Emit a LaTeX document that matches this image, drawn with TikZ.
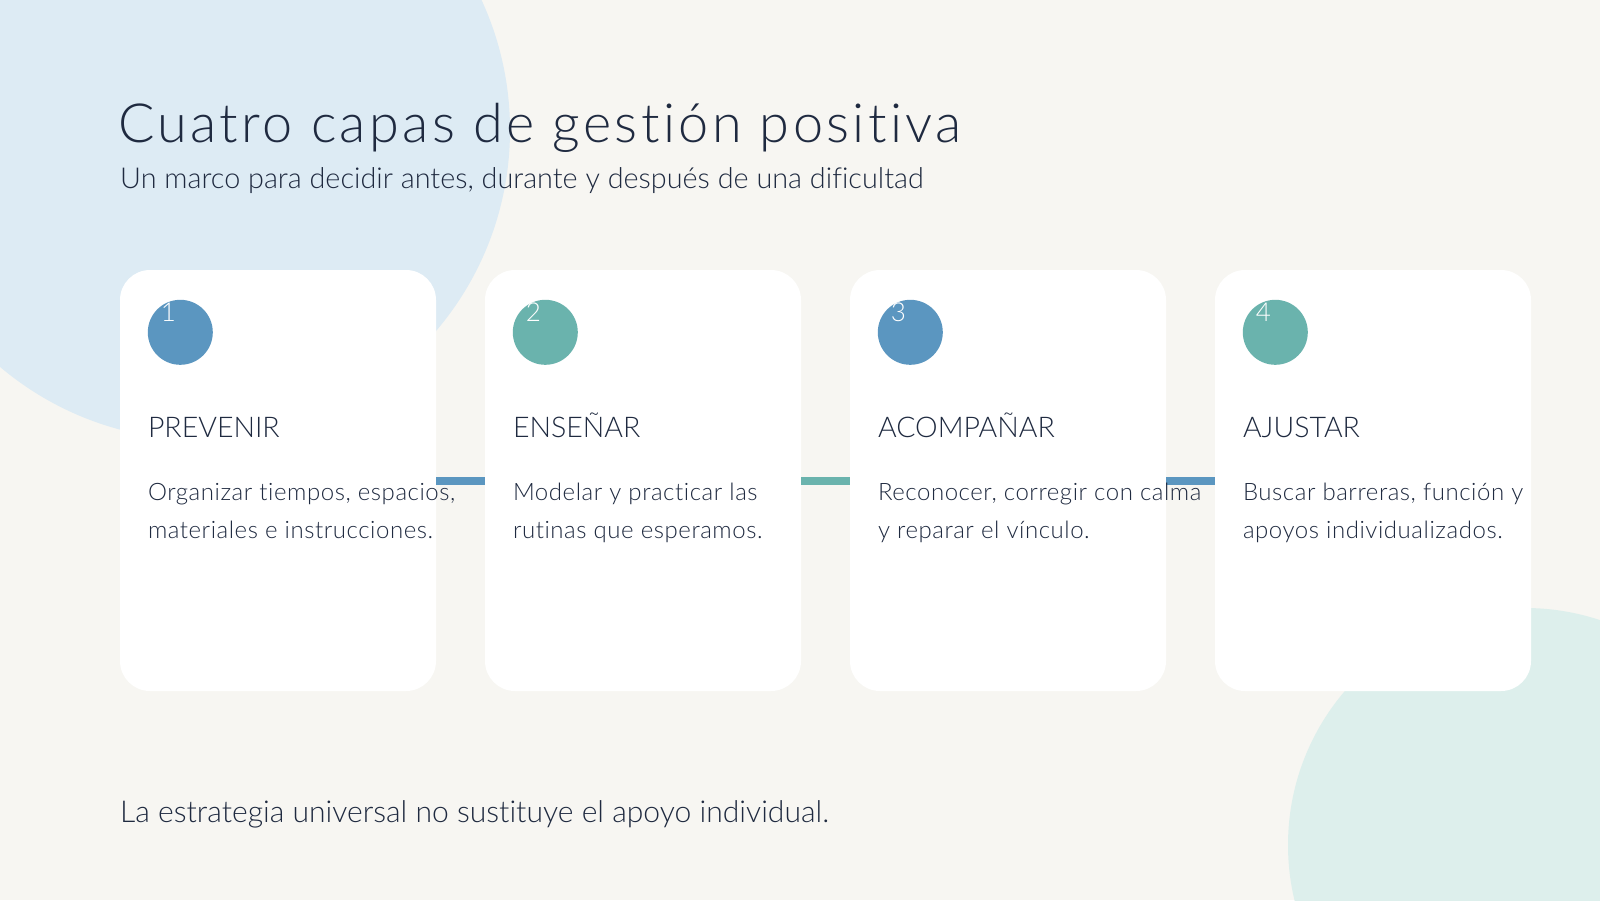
\documentclass[tikz,border=0pt]{standalone}
\usepackage{fontspec}
\IfFontExistsTF{Lato Light}{%
  \setmainfont{Lato Light}[Ligatures=NoCommon]%
  \newfontfamily\titlefont{Lato Light}[Ligatures=NoCommon, LetterSpace=6.3]%
  \newfontfamily\bodyfont{Lato Light}[Ligatures=NoCommon, LetterSpace=2.3]%
}{%
  \setmainfont{Lato}[Ligatures=NoCommon]%
  \newfontfamily\titlefont{Lato}[Ligatures=NoCommon, LetterSpace=6.3]%
  \newfontfamily\bodyfont{Lato}[Ligatures=NoCommon, LetterSpace=2.3]%
}
\usetikzlibrary{calc}
\definecolor{bg}{HTML}{F7F6F2}
\definecolor{blobblue}{HTML}{DDEBF4}
\definecolor{blobteal}{HTML}{DDEFEC}
\definecolor{accblue}{HTML}{5B96C0}
\definecolor{accteal}{HTML}{6AB3AD}
\definecolor{ink}{HTML}{1F2A40}
\tikzset{
  card/.style={fill=white, draw=none, rounded corners=30pt, minimum width=316pt, minimum height=421pt, inner sep=0pt},
  dot/.style={circle, draw=none, minimum size=65pt, inner sep=0pt},
  digit/.style={anchor=base west, inner sep=0pt, text=white, font=\fontsize{26}{26}\selectfont},
  heading/.style={anchor=base west, inner sep=0pt, text=ink, font=\fontsize{28.5}{30}\selectfont},
  body/.style={anchor=base west, inner sep=0pt, text=ink, align=left, font=\bodyfont\fontsize{24}{38}\selectfont},
  conn/.style={line width=8pt, line cap=butt},
  title/.style={anchor=base west, inner sep=0pt, text=ink, font=\titlefont\fontsize{54}{60}\selectfont},
  subtitle/.style={anchor=base west, inner sep=0pt, text=ink, font=\fontsize{28.8}{32}\selectfont},
  foottext/.style={anchor=base west, inner sep=0pt, text=ink, font=\fontsize{30.1}{34}\selectfont},
}
\begin{document}
\begin{tikzpicture}[x=1pt,y=-1pt]
\useasboundingbox (0,0) rectangle (1600,900);
\fill[bg] (0,0) rectangle (1600,900);
\begin{scope}
\clip (0,0) rectangle (1600,900);
\fill[blobblue] (200,130) circle[radius=310];
\fill[blobteal] (1525,845) circle[radius=237];
\end{scope}

\node[title] (title) at (118,142) {Cuatro capas de gestión positiva};
\node[subtitle] (subtitle) at (120,188) {Un marco para decidir antes, durante y después de una dificultad};

\node[card] (c1) at (278,480.5) {};
\node[card] (c2) at (643,480.5) {};
\node[card] (c3) at (1008,480.5) {};
\node[card] (c4) at (1373,480.5) {};

\draw[conn, accblue] (c1.east |- 0,481) -- (c2.west |- 0,481);
\draw[conn, accteal] (c2.east |- 0,481) -- (c3.west |- 0,481);
\draw[conn, accblue] (c3.east |- 0,481) -- (c4.west |- 0,481);

\node[dot, fill=accblue] (d1) at ($(c1.north west)+(60.5,62.5)$) {};
\node[dot, fill=accteal] (d2) at ($(c2.north west)+(60.5,62.5)$) {};
\node[dot, fill=accblue] (d3) at ($(c3.north west)+(60.5,62.5)$) {};
\node[dot, fill=accteal] (d4) at ($(c4.north west)+(60.5,62.5)$) {};

\node[digit] (n1) at ($(d1.west)+(13,-10.5)$) {1};
\node[digit] (n2) at ($(d2.west)+(13,-10.5)$) {2};
\node[digit] (n3) at ($(d3.west)+(13,-10.5)$) {3};
\node[digit] (n4) at ($(d4.west)+(13,-10.5)$) {4};

\node[heading] (h1) at ($(c1.north west)+(28,167.5)$) {PREVENIR};
\node[heading] (h2) at ($(c2.north west)+(28,167.5)$) {ENSEÑAR};
\node[heading] (h3) at ($(c3.north west)+(28,167.5)$) {ACOMPAÑAR};
\node[heading] (h4) at ($(c4.north west)+(28,167.5)$) {AJUSTAR};

\node[body] (b1) at ($(c1.north west)+(28,269)$) {Organizar tiempos, espacios,\\materiales e instrucciones.};
\node[body] (b2) at ($(c2.north west)+(28,269)$) {Modelar y practicar las\\rutinas que esperamos.};
\node[body] (b3) at ($(c3.north west)+(28,269)$) {Reconocer, corregir con calma\\y reparar el vínculo.};
\node[body] (b4) at ($(c4.north west)+(28,269)$) {Buscar barreras, función y\\apoyos individualizados.};

\node[foottext] (foot) at (120,822) {La estrategia universal no sustituye el apoyo individual.};
\end{tikzpicture}
\end{document}
